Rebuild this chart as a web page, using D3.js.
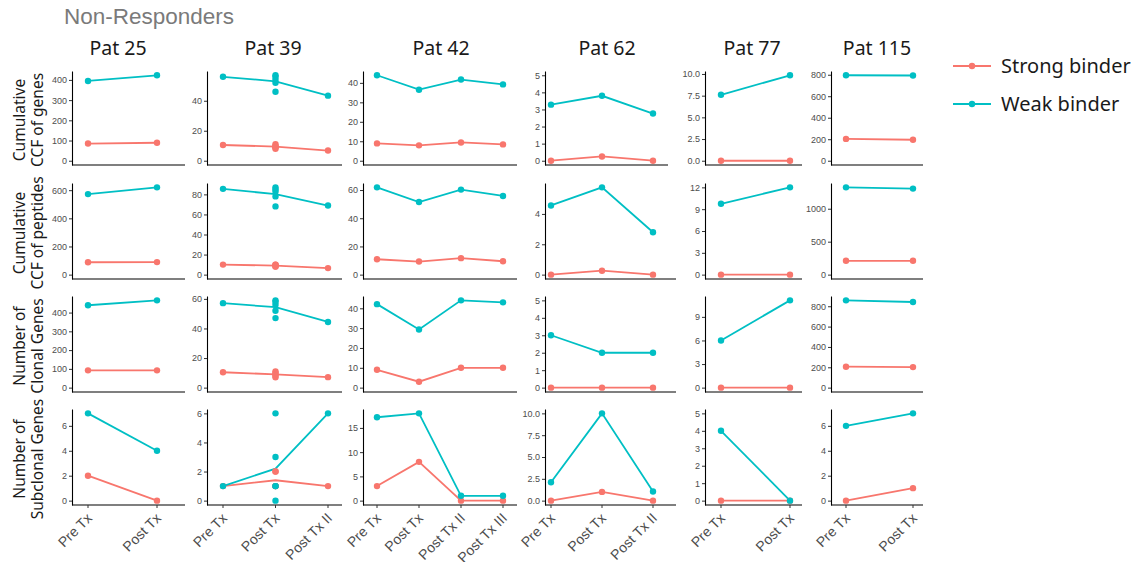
<!DOCTYPE html>
<html>
<head>
<meta charset="utf-8">
<script src="https://cdn.jsdelivr.net/npm/d3@7"></script>
<style>
  body { margin: 0; background: #fff; }
  svg { display: block; }
</style>
</head>
<body>
<div class="graph"></div>
<script>
// ---- data ----
var patients = ["Pat 25", "Pat 39", "Pat 42", "Pat 62", "Pat 77", "Pat 115"];
var timepoints = [
  ["Pre Tx", "Post Tx"],
  ["Pre Tx", "Post Tx", "Post Tx II"],
  ["Pre Tx", "Post Tx", "Post Tx II", "Post Tx III"],
  ["Pre Tx", "Post Tx", "Post Tx II"],
  ["Pre Tx", "Post Tx"],
  ["Pre Tx", "Post Tx"]
];
var rowLabels = [
  ["Cumulative", "CCF of genes"],
  ["Cumulative", "CCF of peptides"],
  ["Number of", "Clonal Genes"],
  ["Number of", "Subclonal Genes"]
];
var binders = ["Strong binder", "Weak binder"];

// one entry per patient; an inner array = several samples at that timepoint
var strongGenes = [[85, 89], [10.5, [11, 10, 9, 8, 9], 6.8], [8.9, 7.9, 9.4, 8.4], [0, 0.25, 0], [0, 0], [203, 195]];
var weakGenes   = [[395, 423], [56, [57, 56, 54, 52, 46], 43.4], [43.9, 36.5, 41.7, 39.2], [3.28, 3.8, 2.76], [7.6, 9.85], [795, 793]];

var strongPeptides = [[88, 89], [10, [10, 10, 9, 8, 8], 6.5], [10.9, 9.3, 11.7, 9.5], [0, 0.26, 0], [0, 0], [210, 210]];
var weakPeptides   = [[572, 620], [85.5, [87, 85, 83, 78, 68], 68.9], [61.9, 51.5, 60.3, 55.8], [4.56, 5.75, 2.79], [9.74, 12], [1324, 1305]];

var strongClonal = [[92, 92], [10.4, [11, 10, 9, 8, 7], 7.1], [9, 3, 10, 10], [0, 0, 0], [0, 0], [206, 202]];
var weakClonal   = [[439, 465], [57.1, [59, 58, 56, 52, 47], 44.4], [42.1, 29.3, 44, 43], [3, 2, 2], [6, 11.1], [858, 842]];

var strongSubclonal = [[2, 0], [1, [2, 2, 1, 1, 1], 1], [3, 8, 0, 0], [0, 1, 0], [0, 0], [0, 1]];
var weakSubclonal   = [[7, 4], [1, [6, 3, 1, 0, 1], 6], [17.2, 18, 1, 1], [2.1, 10, 1.05], [4, 0], [6, 7]];

var ticksGenes     = [[0, 100, 200, 300, 400], [0, 20, 40], [0, 10, 20, 30, 40], [0, 1, 2, 3, 4, 5], [0, 2.5, 5, 7.5, 10], [0, 200, 400, 600, 800]];
var ticksPeptides  = [[0, 200, 400, 600], [0, 20, 40, 60, 80], [0, 20, 40, 60], [0, 2, 4], [0, 3, 6, 9, 12], [0, 500, 1000]];
var ticksClonal    = [[0, 100, 200, 300, 400], [0, 20, 40, 60], [0, 10, 20, 30, 40], [0, 1, 2, 3, 4, 5], [0, 3, 6, 9], [0, 200, 400, 600, 800]];
var ticksSubclonal = [[0, 2, 4, 6], [0, 2, 4, 6], [0, 5, 10, 15], [0, 2.5, 5, 7.5, 10], [0, 1, 2, 3, 4, 5], [0, 2, 4, 6]];

var rows = [
  { strong: strongGenes, weak: weakGenes, ticks: ticksGenes },
  { strong: strongPeptides, weak: weakPeptides, ticks: ticksPeptides },
  { strong: strongClonal, weak: weakClonal, ticks: ticksClonal },
  { strong: strongSubclonal, weak: weakSubclonal, ticks: ticksSubclonal }
];

// ---- layout ----
var W = 1138, H = 562;
var colors = ["#F8766D", "#00BFC4"];
var rowTop = [71, 183, 296, 409],
    rowBottom = [165, 279, 392, 505];
var colLeft = [72, 207, 363, 545, 705, 831],
    colRight = [185, 342, 517, 676, 802, 923],
    ptFirst = [88, 223, 377, 551, 721, 846],
    ptLast = [157, 328, 503, 653, 790, 913],
    titleX = [118, 273, 441, 607, 752, 877];

var svg = d3.select(".graph").append("svg")
  .attr("width", W)
  .attr("height", H);

svg.append("text")
  .attr("x", 64).attr("y", 24)
  .style("font-family", "'Liberation Sans', Arial, sans-serif")
  .style("font-size", "22.5px")
  .style("fill", "#7a7a7a")
  .text("Non-Responders");

patients.forEach(function(p, c) {
  svg.append("text")
    .attr("x", titleX[c]).attr("y", 55)
    .attr("text-anchor", "middle")
    .style("font-family", "'Noto Sans', sans-serif")
    .style("font-size", "19.5px")
    .style("fill", "#1a1a1a")
    .text(p);
});

rowLabels.forEach(function(lines, r) {
  var cy = (rowTop[r] + rowBottom[r]) / 2 + 2;
  var t = svg.append("text")
    .attr("transform", "translate(0," + cy + ") rotate(-90)")
    .attr("text-anchor", "middle")
    .style("font-family", "'Noto Sans', sans-serif")
    .style("font-size", "15.5px")
    .style("fill", "#1a1a1a");
  t.append("tspan").attr("x", 0).attr("y", 25).text(lines[0]);
  t.append("tspan").attr("x", 0).attr("y", 43).text(lines[1]);
});

function mean(v) { return Array.isArray(v) ? d3.mean(v) : v; }
function samples(v) { return Array.isArray(v) ? v : [v]; }

rows.forEach(function(row, r) {
  patients.forEach(function(p, c) {
    var cats = timepoints[c];
    var series = [row.strong[c], row.weak[c]];
    var all = d3.merge(series.map(function(s) { return d3.merge(s.map(samples)); }));
    var hi = Math.max(5, d3.max(all)), pad = hi * 0.05;

    var right = colRight[c];
    if (c === 3 && r === 0) right = 668;

    var x = d3.scalePoint().domain(cats).range([ptFirst[c], ptLast[c]]);
    var y = d3.scaleLinear().domain([-pad, hi + pad]).range([rowBottom[r], rowTop[r]]);

    var g = svg.append("g");

    var fmt = row.ticks[c].some(function(t) { return t % 1 !== 0; }) ? d3.format(".1f") : d3.format("d");
    var yAxis = g.append("g")
      .attr("transform", "translate(" + colLeft[c] + ",0)")
      .call(d3.axisLeft(y).tickValues(row.ticks[c]).tickFormat(fmt).tickSize(3).tickSizeOuter(0).tickPadding(2));
    yAxis.select(".domain").attr("stroke", "#000").attr("stroke-width", 1.1);
    yAxis.selectAll(".tick line").attr("stroke", "#333");
    yAxis.selectAll(".tick text")
      .style("font-family", "'Liberation Sans', Arial, sans-serif")
      .style("font-size", "9px")
      .attr("fill", "#4d4d4d");

    g.append("line")
      .attr("x1", colLeft[c]).attr("x2", right)
      .attr("y1", rowBottom[r]).attr("y2", rowBottom[r])
      .attr("stroke", "#000").attr("stroke-width", 1.1);

    if (r === rows.length - 1) {
      cats.forEach(function(cat) {
        g.append("line")
          .attr("x1", x(cat)).attr("x2", x(cat))
          .attr("y1", rowBottom[r]).attr("y2", rowBottom[r] + 3)
          .attr("stroke", "#333");
        g.append("text")
          .attr("transform", "translate(" + (x(cat) + 5) + "," + (rowBottom[r] + 14) + ") rotate(-45)")
          .attr("text-anchor", "end")
          .style("font-family", "'Liberation Sans', Arial, sans-serif")
          .style("font-size", "14px")
          .style("fill", "#4d4d4d")
          .text(cat);
      });
    }

    var line = d3.line()
      .x(function(d, i) { return x(cats[i]); })
      .y(function(d) { return y(mean(d)); });

    series.forEach(function(s, k) {
      g.append("path")
        .datum(s)
        .attr("d", line)
        .attr("fill", "none")
        .attr("stroke", colors[k])
        .attr("stroke-width", 1.8);
    });
    series.forEach(function(s, k) {
      s.forEach(function(v, i) {
        samples(v).forEach(function(val) {
          g.append("circle")
            .attr("cx", x(cats[i])).attr("cy", y(val))
            .attr("r", 3.2)
            .attr("fill", colors[k]);
        });
      });
    });
  });
});

// legend
binders.forEach(function(b, k) {
  var ly = 66 + k * 38;
  svg.append("line")
    .attr("x1", 953).attr("x2", 991)
    .attr("y1", ly).attr("y2", ly)
    .attr("stroke", colors[k]).attr("stroke-width", 1.8);
  svg.append("circle")
    .attr("cx", 972).attr("cy", ly).attr("r", 3.2)
    .attr("fill", colors[k]);
  svg.append("text")
    .attr("x", 1001).attr("y", ly + 7)
    .style("font-family", "'Noto Sans', sans-serif")
    .style("font-size", "20px")
    .style("fill", "#1a1a1a")
    .text(b);
});
</script>
</body>
</html>
